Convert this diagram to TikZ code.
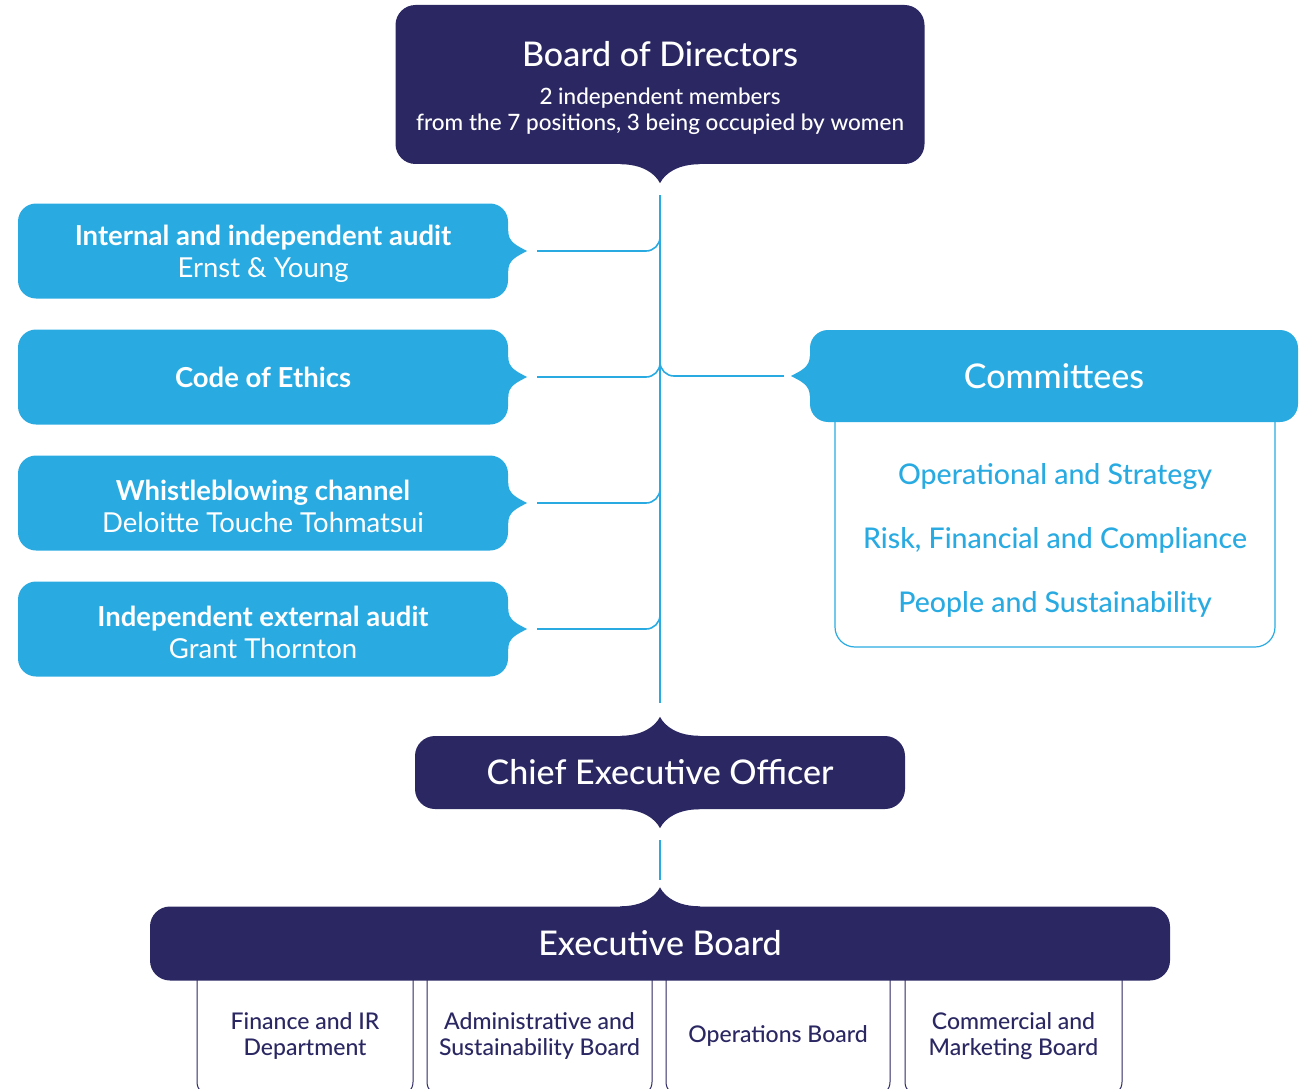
\documentclass[tikz,border=0pt]{standalone}
\usepackage{fontspec}
\setmainfont{Lato}
\IfFontExistsTF{Lato Medium}
  {\newfontfamily\mediumfont{Lato Medium}}
  {\newfontfamily\mediumfont{Lato}}
\usetikzlibrary{calc}

\definecolor{navy}{RGB}{42,39,98}
\definecolor{sky}{RGB}{41,171,226}

% taller first line, pushes two-line texts down a little
\newcommand{\headstrut}[1]{\rule{0pt}{#1}}

% brace-like tip on a box edge: anchor, angle, colour, half width
\newcommand{\boxtip}[4]{%
  \fill[#3,shift={(#1)},rotate=#2] (-#4,2) -- (-#4,0)
    .. controls (-0.45*#4,0) and (-5,-9) .. (0,-19)
    .. controls (5,-9) and (0.45*#4,0) .. (#4,0) -- (#4,2) -- cycle;}

\begin{document}
\begin{tikzpicture}[x=1pt,y=1pt,
    darkbox/.style={fill=navy,text=white,rounded corners=20pt,align=center,inner sep=0pt},
    sidebox/.style={fill=sky,text=white,rounded corners=18pt,align=center,inner sep=0pt,
      minimum width=490pt,minimum height=95pt,font=\fontsize{27.5}{32}\selectfont},
    unitframe/.style={draw=navy,line width=1pt,rounded corners=14pt,minimum height=146pt},
    unittext/.style={text=navy,align=center,font=\mediumfont\fontsize{23}{26}\selectfont},
    link/.style={draw=sky,line width=1.6pt,rounded corners=14pt}]
  \clip (0,0) rectangle (1299,-1089);

  % top of the structure
  \node[darkbox,minimum width=529pt,minimum height=159pt,
    font=\mediumfont\fontsize{22.5}{26}\selectfont]
    (board) at (660,-84.5)
    {\headstrut{32pt}{\fontsize{34}{34}\selectfont Board of Directors}\\[12pt]
     2 independent members\\ from the 7 positions, 3 being occupied by women};
  \boxtip{board.south}{0}{navy}{40}
  \coordinate (spine) at (board.south);

  % control bodies on the left
  \node[sidebox] (audit) at (263,-251)
    {\headstrut{27pt}\textbf{Internal and independent audit}\\ Ernst \& Young};
  \node[sidebox] (ethics) at (263,-377) {\textbf{Code of Ethics}};
  \node[sidebox] (whistle) at (263,-503)
    {\headstrut{27pt}\textbf{Whistleblowing channel}\\ Deloitte Touche Tohmatsui};
  \node[sidebox] (extaudit) at (263,-629)
    {\headstrut{27pt}\textbf{Independent external audit}\\ Grant Thornton};
  \boxtip{audit.east}{90}{sky}{20}
  \boxtip{ethics.east}{90}{sky}{20}
  \boxtip{whistle.east}{90}{sky}{20}
  \boxtip{extaudit.east}{90}{sky}{20}

  % committees
  \node[draw=sky,line width=1.2pt,rounded corners=20pt,minimum width=440pt,
    minimum height=250pt] (comframe) at (1055,-522) {};
  \node[sidebox,minimum width=488pt,minimum height=92pt,
    font=\mediumfont\fontsize{34}{36}\selectfont]
    (committees) at (1054,-376) {Committees};
  \boxtip{committees.west}{-90}{sky}{20}
  \node[text=sky,align=center,font=\mediumfont\fontsize{28.5}{64}\selectfont]
    (comlist) at (1055,-540)
    {Operational and Strategy\\ Risk, Financial and Compliance\\ People and Sustainability};

  % management
  \node[darkbox,minimum width=490pt,minimum height=73pt,
    font=\mediumfont\fontsize{34}{36}\selectfont]
    (ceo) at (660,-772.5) {Chief Executive Officer};
  \boxtip{ceo.north}{180}{navy}{40}
  \boxtip{ceo.south}{0}{navy}{40}

  \node[unitframe,minimum width=216pt] (finance) at (305,-1023) {};
  \node[unitframe,minimum width=225pt] (admin) at (539.5,-1023) {};
  \node[unitframe,minimum width=224pt] (ops) at (778,-1023) {};
  \node[unitframe,minimum width=217pt] (sales) at (1013.5,-1023) {};
  \node[unittext] (financetxt) at (305,-1036) {Finance and IR\\ Department};
  \node[unittext] (admintxt) at (539.5,-1036) {Administrative and\\ Sustainability Board};
  \node[unittext] (opstxt) at (778,-1036) {Operations Board};
  \node[unittext] (salestxt) at (1013.5,-1036) {Commercial and\\ Marketing Board};

  \node[darkbox,minimum width=1020pt,minimum height=74pt,
    font=\mediumfont\fontsize{34}{36}\selectfont]
    (exec) at (660,-943.5) {Executive Board};
  \boxtip{exec.north}{180}{navy}{40}

  % connectors
  \draw[link] ([yshift=-31pt]board.south) -- ([yshift=33pt]ceo.north);
  \draw[link] ([yshift=-31pt]ceo.south) -- ([yshift=26pt]exec.north);
  \draw[link] ([xshift=29pt]audit.east) -| ($(audit.east -| spine)+(0,16)$);
  \draw[link] ([xshift=29pt]ethics.east) -| ($(ethics.east -| spine)+(0,16)$);
  \draw[link] ([xshift=29pt]whistle.east) -| ($(whistle.east -| spine)+(0,16)$);
  \draw[link] ([xshift=29pt]extaudit.east) -| ($(extaudit.east -| spine)+(0,16)$);
  \draw[link] ([xshift=-26pt]committees.west) -| ($(committees.west -| spine)+(0,16)$);
\end{tikzpicture}
\end{document}
